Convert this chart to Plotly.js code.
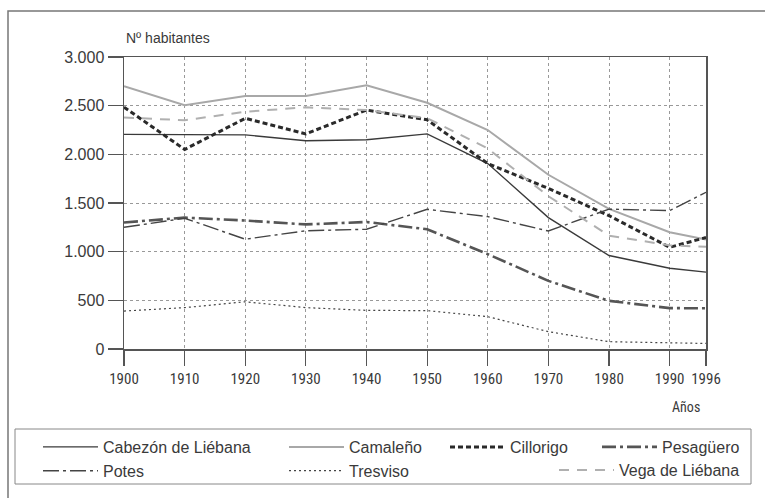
<!DOCTYPE html>
<html>
<head>
<meta charset="utf-8">
<script src="https://cdn.plot.ly/plotly-3.0.1.min.js"></script>
<style>
  html, body { margin: 0; padding: 0; background: #ffffff; }
  #chart { width: 765px; height: 498px; }
</style>
</head>
<body>
<div id="chart"></div>
<script>
// Years (x axis tick values)
const years = [1900, 1910, 1920, 1930, 1940, 1950, 1960, 1970, 1980, 1990, 1996];

// Population series (Nº habitantes)
const cabezonDeLiebana = [2205, 2205, 2200, 2140, 2150, 2210, 1905, 1350, 960, 830, 790];
const camaleno         = [2700, 2505, 2600, 2600, 2710, 2530, 2250, 1790, 1440, 1200, 1125];
const cillorigo        = [2485, 2050, 2370, 2210, 2455, 2355, 1905, 1650, 1370, 1045, 1145];
const pesaguero        = [1300, 1350, 1320, 1280, 1305, 1230, 975, 700, 495, 420, 418];
const potes            = [1250, 1343, 1128, 1215, 1230, 1435, 1360, 1212, 1437, 1422, 1610];
const tresviso         = [390, 425, 485, 425, 397, 394, 332, 178, 75, 64, 57];
const vegaDeLiebana    = [2378, 2350, 2438, 2483, 2455, 2372, 2060, 1570, 1165, 1065, 1050];

const seriesNames = ['Cabezón de Liébana', 'Camaleño', 'Cillorigo', 'Pesagüero',
                     'Potes', 'Tresviso', 'Vega de Liébana'];
const yTicks = [0, 500, 1000, 1500, 2000, 2500, 3000];

const styles = [
  {color: '#3a3a3a', width: 1.4, dash: 'solid'},
  {color: '#a8a8a8', width: 2,   dash: 'solid'},
  {color: '#2a2a2a', width: 3,   dash: '5px,3px'},
  {color: '#555555', width: 2.6, dash: '14px,4px,3px,4px'},
  {color: '#444444', width: 1.4, dash: '16px,4px,3px,4px'},
  {color: '#444444', width: 1.2, dash: '2px,3px'},
  {color: '#b0b0b0', width: 2,   dash: '10px,8px'}
];
const values = [cabezonDeLiebana, camaleno, cillorigo, pesaguero, potes, tresviso, vegaDeLiebana];
// legend column each series is listed in
const legendOf = ['legend', 'legend2', 'legend3', 'legend4', 'legend', 'legend2', 'legend5'];

const traces = values.map((v, i) => ({
  type: 'scatter',
  mode: 'lines',
  x: years,
  y: v,
  name: seriesNames[i],
  line: styles[i],
  legend: legendOf[i],
  hoverinfo: 'x+y+name'
}));

const narrow = '"Liberation Sans Narrow", "Arial Narrow", "Roboto Condensed", sans-serif';
const sans = '"Liberation Sans", Arial, Helvetica, sans-serif';

// plot area in pixels: x 124..706, y 57..349
const W = 765, H = 498, L = 124, R = 59, T = 57, B = 149;
const pw = W - L - R, ph = H - T - B;
const px = p => (p - L) / pw;
const py = p => (H - B - p) / ph;

const symW = 55;           // legend line sample width (px)
const legTop = 430;        // legend top (px)
const rowH = 23;
const legendFont = {family: sans, size: 16, color: '#3a3a3a'};
const legendCommon = {
  orientation: 'v', xanchor: 'left', yanchor: 'top',
  borderwidth: 0, bgcolor: 'rgba(0,0,0,0)',
  itemwidth: symW, tracegroupgap: 0, font: legendFont
};
const leg = (xPix, yPix, extra) => Object.assign({}, legendCommon, {x: px(xPix), y: py(yPix)}, extra || {});

const layout = {
  width: W, height: H,
  margin: {l: L, r: R, t: T, b: B, pad: 0, autoexpand: false},
  paper_bgcolor: '#ffffff',
  plot_bgcolor: '#ffffff',
  separators: ',.',
  showlegend: true,
  xaxis: {
    type: 'linear',
    range: [1900, 1996],
    tickvals: years,
    ticktext: years.map(String),
    ticks: 'outside', ticklen: 15, tickwidth: 1.2, tickcolor: '#555555',
    showline: true, linecolor: '#555555', linewidth: 1.5, mirror: true,
    showgrid: true, gridcolor: '#999999', gridwidth: 1, griddash: 'dot',
    zeroline: false,
    tickfont: {family: narrow, size: 15, color: '#3a3a3a'},
    fixedrange: true
  },
  yaxis: {
    range: [0, 3000],
    tickvals: yTicks,
    separatethousands: true,
    tickformat: ',d',
    ticks: 'outside', ticklen: 15, tickwidth: 1.2, tickcolor: '#555555',
    showline: true, linecolor: '#555555', linewidth: 1.5, mirror: true,
    showgrid: true, gridcolor: '#999999', gridwidth: 1, griddash: 'dot',
    zeroline: false,
    tickfont: {family: sans, size: 16, color: '#3a3a3a'},
    fixedrange: true
  },
  legend:  leg(38, legTop),
  legend2: leg(284, legTop),
  legend3: leg(445, legTop),
  legend4: leg(745, legTop, {xanchor: 'right'}),
  legend5: leg(745, legTop + rowH, {xanchor: 'right'}),
  shapes: [
    {type: 'rect', xref: 'paper', yref: 'paper',
     x0: px(8), x1: px(830), y0: py(540), y1: py(11),
     line: {color: '#777777', width: 1.5}, fillcolor: 'rgba(0,0,0,0)', layer: 'below'},
    {type: 'rect', xref: 'paper', yref: 'paper',
     x0: px(15), x1: px(751), y0: py(484), y1: py(429),
     line: {color: '#888888', width: 1}, fillcolor: 'rgba(0,0,0,0)', layer: 'below'}
  ],
  annotations: [
    {text: 'Nº habitantes', xref: 'paper', yref: 'paper', x: px(124), y: py(38),
     xanchor: 'left', yanchor: 'middle', showarrow: false,
     font: {family: sans, size: 14, color: '#3a3a3a'}},
    {text: 'Años', xref: 'paper', yref: 'paper', x: px(686), y: py(407),
     xanchor: 'center', yanchor: 'middle', showarrow: false,
     font: {family: narrow, size: 14, color: '#3a3a3a'}}
  ]
};

Plotly.newPlot('chart', traces, layout, {displayModeBar: false, staticPlot: true});
</script>
</body>
</html>
